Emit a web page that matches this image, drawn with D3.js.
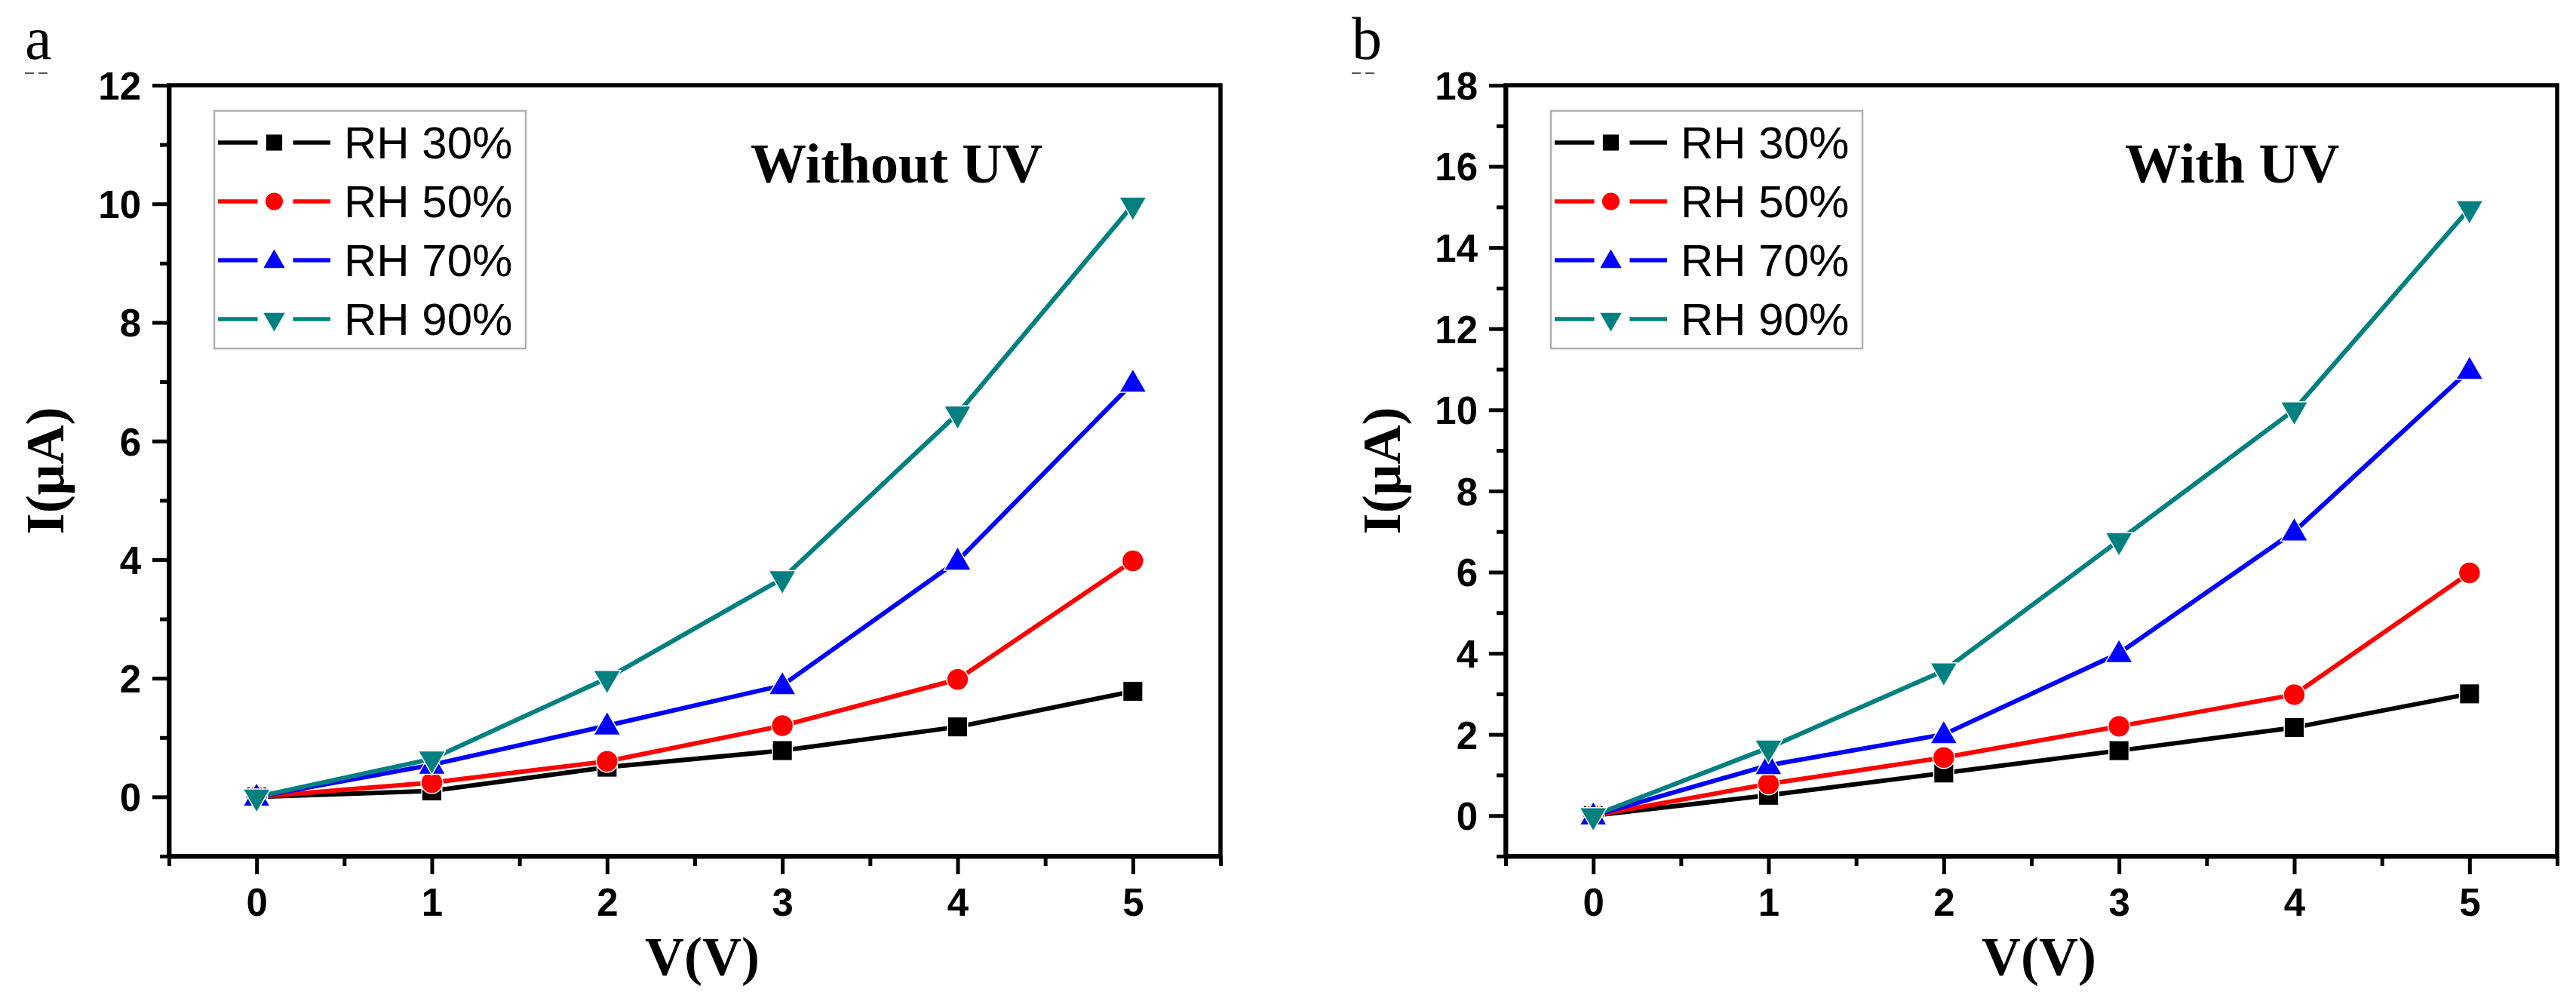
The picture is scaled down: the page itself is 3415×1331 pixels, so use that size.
<!DOCTYPE html>
<html>
<head>
<meta charset="utf-8">
<script src="https://cdn.jsdelivr.net/npm/d3@7"></script>
<style>
  html, body { margin: 0; padding: 0; background: #ffffff; }
  svg { display: block; }
  .tick text { font-family: "Liberation Sans", Arial, sans-serif; font-weight: bold; font-size: 51px; fill: #000; }
</style>
</head>
<body>
<svg id="chart" width="3415" height="1331"></svg>
<script>
// ---------------- data ----------------
const voltages = [0, 1, 2, 3, 4, 5];
const seriesNames = ["RH 30%", "RH 50%", "RH 70%", "RH 90%"];
const seriesColors = ["#000000", "#ff0000", "#0000ff", "#008080"];
const seriesSymbols = ["square", "circle", "triangleUp", "triangleDown"];

// Panel a: Without UV (current in µA)
const noUV_RH30 = [0, 0.10, 0.50, 0.78, 1.18, 1.78];
const noUV_RH50 = [0, 0.24, 0.60, 1.20, 1.98, 3.98];
const noUV_RH70 = [0, 0.54, 1.20, 1.88, 3.98, 6.98];
const noUV_RH90 = [0, 0.64, 2.00, 3.68, 6.46, 9.98];

// Panel b: With UV (current in µA)
const UV_RH30 = [0, 0.50, 1.05, 1.60, 2.17, 3.00];
const UV_RH50 = [0, 0.78, 1.43, 2.20, 2.98, 5.98];
const UV_RH70 = [0, 1.24, 2.00, 4.00, 7.00, 10.98];
const UV_RH90 = [0, 1.67, 3.57, 6.78, 10.00, 14.96];

// axis ticks
const xMajorTicks = [0, 1, 2, 3, 4, 5];
const xMinorTicks = [-0.5, 0.5, 1.5, 2.5, 3.5, 4.5, 5.5];
const yMajorTicksA = [0, 2, 4, 6, 8, 10, 12];
const yMinorTicksA = [-1, 1, 3, 5, 7, 9, 11];
const yMajorTicksB = [0, 2, 4, 6, 8, 10, 12, 14, 16, 18];
const yMinorTicksB = [-1, 1, 3, 5, 7, 9, 11, 13, 15, 17];

const panels = [
  { letter: "a", title: "Without UV", series: [noUV_RH30, noUV_RH50, noUV_RH70, noUV_RH90],
    yDomain: [-1, 12], yMajor: yMajorTicksA, yMinor: yMinorTicksA,
    left: 224, right: 1618, top: 113, bottom: 1135, titleX: 995, letterX: 33 },
  { letter: "b", title: "With UV", series: [UV_RH30, UV_RH50, UV_RH70, UV_RH90],
    yDomain: [-1, 18], yMajor: yMajorTicksB, yMinor: yMinorTicksB,
    left: 1996, right: 3390, top: 113, bottom: 1135, titleX: 2817, letterX: 1792 }
];

const svg = d3.select("#chart");
svg.append("rect").attr("width", 3415).attr("height", 1331).attr("fill", "#fff");

function symbolPath(kind, scale) {
  if (kind === "square") return d3.symbol(d3.symbolSquare, 450 * scale)();
  if (kind === "circle") return d3.symbol(d3.symbolCircle, 420 * scale)();
  return d3.symbol(d3.symbolTriangle, 350 * scale)();
}
function symbolTransform(kind, x, y) {
  if (kind === "triangleDown") return `translate(${x},${y}) rotate(180)`;
  if (kind === "triangleUp") return `translate(${x},${y + 2})`;
  return `translate(${x},${y})`;
}

const AXIS_W = 5.5;

panels.forEach(p => {
  const x = d3.scaleLinear().domain([-0.5, 5.5]).range([p.left, p.right]);
  const y = d3.scaleLinear().domain(p.yDomain).range([p.bottom, p.top]);
  const g = svg.append("g");

  // frame (top & right borders)
  g.append("rect")
    .attr("x", p.left).attr("y", p.top)
    .attr("width", p.right - p.left).attr("height", p.bottom - p.top)
    .attr("fill", "none").attr("stroke", "#000").attr("stroke-width", AXIS_W);

  const yAx = g.append("g").attr("transform", `translate(${p.left},0)`)
    .call(d3.axisLeft(y).tickValues(p.yMajor).tickSize(22).tickSizeOuter(0).tickPadding(15).tickFormat(d3.format("d")));
  const yAxm = g.append("g").attr("transform", `translate(${p.left},0)`)
    .call(d3.axisLeft(y).tickValues(p.yMinor).tickSize(12).tickSizeOuter(0).tickFormat(""));
  const xAx = g.append("g").attr("transform", `translate(0,${p.bottom})`)
    .call(d3.axisBottom(x).tickValues(xMajorTicks).tickSize(24).tickSizeOuter(0).tickPadding(19).tickFormat(d3.format("d")));
  const xAxm = g.append("g").attr("transform", `translate(0,${p.bottom})`)
    .call(d3.axisBottom(x).tickValues(xMinorTicks).tickSize(13).tickSizeOuter(0).tickFormat(""));

  [yAx, yAxm, xAx, xAxm].forEach(a => {
    a.select(".domain").attr("stroke", "#000").attr("stroke-width", AXIS_W);
    a.selectAll(".tick line").attr("stroke", "#000").attr("stroke-width", 5);
  });
  yAx.selectAll(".tick text").attr("dy", "0.36em");

  // series lines
  const line = d3.line().x((d, i) => x(voltages[i])).y(d => y(d));
  p.series.forEach((vals, si) => {
    g.append("path").datum(vals)
      .attr("d", line)
      .attr("fill", "none")
      .attr("stroke", seriesColors[si])
      .attr("stroke-width", 6)
      .attr("stroke-linejoin", "round");
  });
  // markers with small white gap halo
  p.series.forEach((vals, si) => {
    const kind = seriesSymbols[si];
    g.selectAll(null).data(vals).enter().append("path")
      .attr("d", symbolPath(kind, 1.4))
      .attr("transform", (d, i) => symbolTransform(kind, x(voltages[i]), y(d)))
      .attr("fill", seriesColors[si])
      .attr("stroke", "#ffffff").attr("stroke-width", 3)
      .attr("paint-order", "stroke");
  });

  // legend
  const lgX = p.left + 60, lgY = p.top + 34, lgW = 413, lgH = 315;
  const leg = g.append("g");
  leg.append("rect").attr("x", lgX).attr("y", lgY).attr("width", lgW).attr("height", lgH)
    .attr("fill", "#fff").attr("stroke", "#b0b0b0").attr("stroke-width", 2.5);
  seriesNames.forEach((name, si) => {
    const ry = lgY + 42 + si * 78;
    const lx0 = p.left + 65, lx1 = p.left + 214, mx = (lx0 + lx1) / 2;
    leg.append("line").attr("x1", lx0).attr("x2", mx - 22).attr("y1", ry).attr("y2", ry)
      .attr("stroke", seriesColors[si]).attr("stroke-width", 5.5);
    leg.append("line").attr("x1", mx + 25).attr("x2", lx1).attr("y1", ry).attr("y2", ry)
      .attr("stroke", seriesColors[si]).attr("stroke-width", 5.5);
    leg.append("path").attr("d", symbolPath(seriesSymbols[si], 1))
      .attr("transform", symbolTransform(seriesSymbols[si], mx, ry))
      .attr("fill", seriesColors[si]);
    leg.append("text").attr("x", p.left + 232).attr("y", ry + 21)
      .attr("font-family", "'Liberation Sans', Arial, sans-serif")
      .attr("font-size", 60).attr("fill", "#000").text(name);
  });

  // inner title
  g.append("text").attr("x", p.titleX).attr("y", 242)
    .attr("font-family", "'Liberation Serif', 'Times New Roman', serif")
    .attr("font-weight", "bold").attr("font-size", 74).attr("fill", "#000").text(p.title);

  // axis titles
  g.append("text")
    .attr("transform", `translate(${p.left - 140},${(p.top + p.bottom) / 2}) rotate(-90)`)
    .attr("text-anchor", "middle")
    .attr("font-family", "'Liberation Serif', 'Times New Roman', serif")
    .attr("font-weight", "bold").attr("font-size", 72).attr("fill", "#000").text("I(μA)");
  g.append("text")
    .attr("x", (p.left + p.right) / 2 + 10).attr("y", 1292)
    .attr("text-anchor", "middle")
    .attr("font-family", "'Liberation Serif', 'Times New Roman', serif")
    .attr("font-weight", "bold").attr("font-size", 72).attr("fill", "#000").text("V(V)");

  // panel letter with dashed underline
  g.append("text").attr("x", p.letterX).attr("y", 78)
    .attr("font-family", "'Liberation Serif', 'Times New Roman', serif")
    .attr("font-size", 80).attr("fill", "#000").text(p.letter);
  g.append("line").attr("x1", p.letterX).attr("x2", p.letterX + 36).attr("y1", 97).attr("y2", 97)
    .attr("stroke", "#555").attr("stroke-width", 2).attr("stroke-dasharray", "12,6");
});
</script>
</body>
</html>
